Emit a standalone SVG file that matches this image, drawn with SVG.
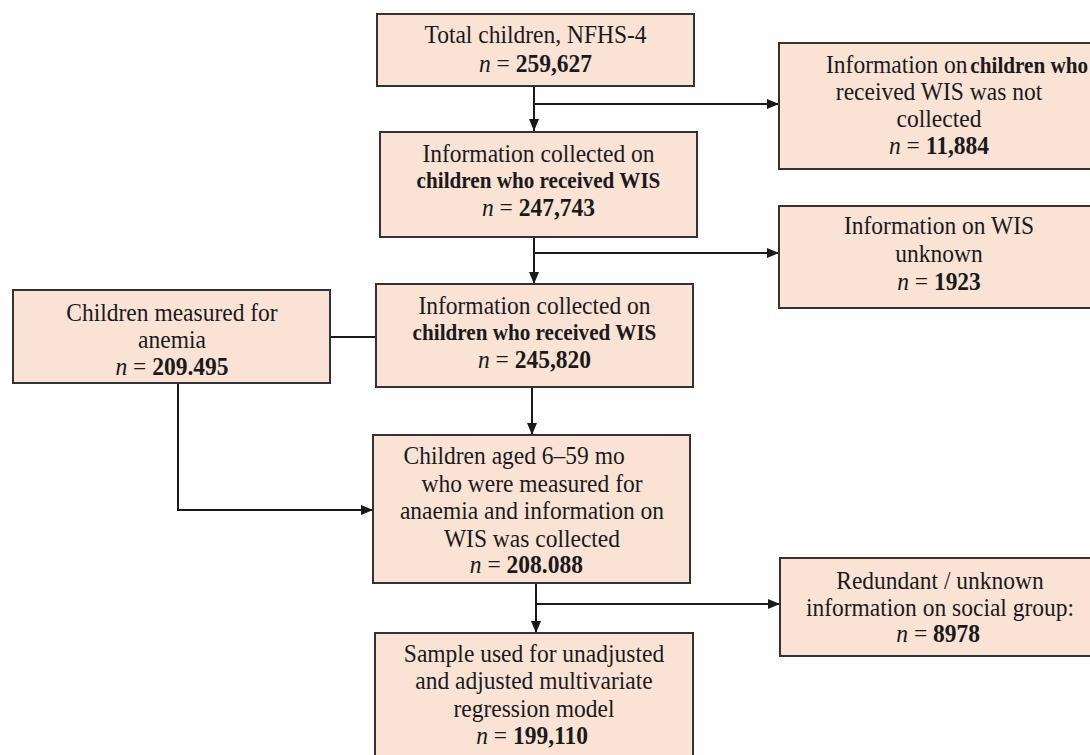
<svg xmlns="http://www.w3.org/2000/svg" width="1090" height="755" viewBox="0 0 1090 755">
<style>
.box{fill:#FAE2D5;stroke:#333333;stroke-width:2}
.t{font-family:"Liberation Serif","Times New Roman",serif;font-size:25px;fill:#1a1a1a;text-anchor:middle}
.b{font-weight:bold}
.bl{font-weight:bold;font-size:22.5px}
.i{font-style:italic}
.c{fill:none;stroke:#1a1a1a;stroke-width:2}
</style>
<defs>
<marker id="ah" markerUnits="userSpaceOnUse" markerWidth="12" markerHeight="10" refX="12" refY="5" orient="auto">
<path d="M0,0 L12,5 L0,10 z" fill="#1a1a1a"/>
</marker>
</defs>
<rect width="1090" height="755" fill="#ffffff"/>
<g id="connectors">
<path class="c" d="M534,86 V131" marker-end="url(#ah)"/>
<path class="c" d="M534,104 H779" marker-end="url(#ah)"/>
<path class="c" d="M534,237 V284" marker-end="url(#ah)"/>
<path class="c" d="M534,253 H779" marker-end="url(#ah)"/>
<path class="c" d="M330,337 H376"/>
<path class="c" d="M532,387 V435" marker-end="url(#ah)"/>
<path class="c" d="M178,383 V510 H373" marker-end="url(#ah)"/>
<path class="c" d="M536,583 V633" marker-end="url(#ah)"/>
<path class="c" d="M536,604 H780" marker-end="url(#ah)"/>
</g>
<g id="n1">
<rect class="box" x="377" y="14" width="317" height="72"/>
<g transform="translate(535.5 0) scale(0.94 1)">
<text class="t" x="0" y="43">Total children, NFHS-4</text>
<text class="t" x="0" y="72"><tspan class="i">n</tspan> = <tspan class="b">259,627</tspan></text>
</g>
</g>
<g id="r1">
<rect class="box" x="779" y="43" width="330" height="126"/>
<g transform="translate(826 0) scale(0.94 1)">
<text class="t" x="0" y="73" style="text-anchor:start">Information on<tspan class="bl" dx="3">children who</tspan></text>
</g>
<g transform="translate(939 0) scale(0.94 1)">
<text class="t" x="0" y="100">received WIS was not</text>
<text class="t" x="0" y="127">collected</text>
<text class="t" x="0" y="154"><tspan class="i">n</tspan> = <tspan class="b">11,884</tspan></text>
</g>
</g>
<g id="n2">
<rect class="box" x="380" y="132" width="317" height="105"/>
<g transform="translate(538.5 0) scale(0.94 1)">
<text class="t" x="0" y="162">Information collected on</text>
<text class="t bl" x="0" y="188">children who received WIS</text>
<text class="t" x="0" y="216"><tspan class="i">n</tspan> = <tspan class="b">247,743</tspan></text>
</g>
</g>
<g id="r2">
<rect class="box" x="779" y="206" width="330" height="102"/>
<g transform="translate(939 0) scale(0.94 1)">
<text class="t" x="0" y="234">Information on WIS</text>
<text class="t" x="0" y="262">unknown</text>
<text class="t" x="0" y="290"><tspan class="i">n</tspan> = <tspan class="b">1923</tspan></text>
</g>
</g>
<g id="left">
<rect class="box" x="13" y="290" width="317" height="93"/>
<g transform="translate(172 0) scale(0.94 1)">
<text class="t" x="0" y="321">Children measured for</text>
<text class="t" x="0" y="348">anemia</text>
<text class="t" x="0" y="375"><tspan class="i">n</tspan> =  <tspan class="b">209.495</tspan></text>
</g>
</g>
<g id="n3">
<rect class="box" x="376" y="284" width="317" height="103"/>
<g transform="translate(534.5 0) scale(0.94 1)">
<text class="t" x="0" y="314">Information collected on</text>
<text class="t bl" x="0" y="340">children who received WIS</text>
<text class="t" x="0" y="368"><tspan class="i">n</tspan> = <tspan class="b">245,820</tspan></text>
</g>
</g>
<g id="n4">
<rect class="box" x="373" y="435" width="317" height="148"/>
<g transform="translate(532 0) scale(0.94 1)">
<text class="t" x="-19" y="464">Children aged 6–59 mo</text>
<text class="t" x="0" y="492">who were measured for</text>
<text class="t" x="0" y="519">anaemia and information on</text>
<text class="t" x="0" y="547">WIS was collected</text>
<text class="t" x="-6" y="573"><tspan class="i">n</tspan> =  <tspan class="b">208.088</tspan></text>
</g>
</g>
<g id="r3">
<rect class="box" x="780" y="558" width="330" height="98"/>
<g transform="translate(940 0) scale(0.94 1)">
<text class="t" x="0" y="589">Redundant / unknown</text>
<text class="t" x="0" y="616">information on social group:</text>
<text class="t" x="-2" y="642"><tspan class="i">n</tspan> = <tspan class="b">8978</tspan></text>
</g>
</g>
<g id="n5">
<rect class="box" x="375" y="633" width="318" height="130"/>
<g transform="translate(534 0) scale(0.94 1)">
<text class="t" x="0" y="662">Sample used for unadjusted</text>
<text class="t" x="0" y="689">and adjusted multivariate</text>
<text class="t" x="0" y="717">regression model</text>
<text class="t" x="-2" y="744"><tspan class="i">n</tspan> = <tspan class="b">199,110</tspan></text>
</g>
</g>
</svg>
